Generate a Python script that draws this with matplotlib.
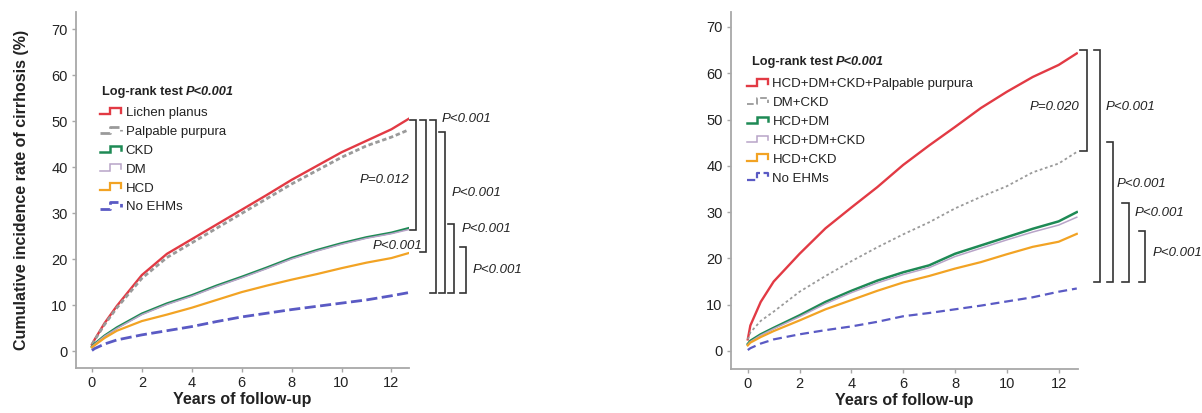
import numpy as np
import matplotlib
matplotlib.use("Agg")
import matplotlib.pyplot as plt
from matplotlib.lines import Line2D
from matplotlib.legend_handler import HandlerBase

plt.rcParams['font.family'] = ['Liberation Sans', 'DejaVu Sans']

# ---------------- data ----------------
years = [0, 0.1, 0.5, 1, 2, 3, 4, 5, 6, 7, 8, 9, 10, 11, 12, 12.7]

left_labels = ["Lichen planus", "Palpable purpura", "CKD", "DM", "HCD", "No EHMs"]
lichen_planus = [1.5, 2.5, 6.1, 9.9, 16.6, 21.2, 24.4, 27.6, 30.8, 34.0, 37.3, 40.3, 43.3, 45.8, 48.3, 50.6]
palpable_purpura = [1.5, 2.4, 5.8, 9.5, 15.9, 20.4, 23.6, 26.8, 30.0, 33.2, 36.4, 39.3, 42.2, 44.7, 46.6, 48.2]
ckd = [1.0, 1.6, 3.4, 5.2, 8.2, 10.4, 12.2, 14.3, 16.2, 18.2, 20.3, 22.0, 23.5, 24.8, 25.8, 26.8]
dm = [1.0, 1.5, 3.3, 5.0, 8.0, 10.2, 12.0, 14.1, 16.0, 18.0, 20.1, 21.8, 23.3, 24.6, 25.6, 26.5]
hcd = [0.9, 1.3, 2.9, 4.5, 6.6, 8.0, 9.5, 11.2, 12.9, 14.3, 15.6, 16.8, 18.1, 19.3, 20.3, 21.4]
no_ehms_left = [0.2, 0.6, 1.6, 2.5, 3.6, 4.5, 5.4, 6.5, 7.5, 8.3, 9.1, 9.8, 10.5, 11.2, 12.1, 12.8]

right_labels = ["HCD+DM+CKD+Palpable purpura", "DM+CKD", "HCD+DM", "HCD+DM+CKD", "HCD+CKD", "No EHMs"]
hcd_dm_ckd_pp = [2.5, 5.5, 10.6, 15.0, 21.0, 26.5, 31.0, 35.4, 40.2, 44.4, 48.4, 52.5, 56.0, 59.2, 61.8, 64.3]
dm_ckd = [2.5, 4.0, 6.5, 8.5, 12.8, 16.2, 19.4, 22.4, 25.2, 27.8, 30.8, 33.3, 35.6, 38.6, 40.5, 43.0]
hcd_dm = [1.5, 2.2, 3.6, 5.0, 7.7, 10.6, 13.0, 15.2, 17.0, 18.5, 21.0, 22.8, 24.6, 26.4, 28.0, 30.0]
hcd_dm_ckd = [1.4, 2.0, 3.4, 4.8, 7.4, 10.2, 12.6, 14.7, 16.5, 18.0, 20.4, 22.2, 24.0, 25.7, 27.2, 28.9]
hcd_ckd = [1.2, 1.8, 3.0, 4.3, 6.6, 9.0, 11.0, 13.0, 14.8, 16.2, 17.8, 19.2, 20.9, 22.5, 23.6, 25.3]
no_ehms_right = [0.2, 0.6, 1.6, 2.5, 3.6, 4.5, 5.3, 6.3, 7.5, 8.2, 9.0, 9.8, 10.7, 11.6, 12.8, 13.5]

y_ticks = [0, 10, 20, 30, 40, 50, 60, 70]
x_ticks = [0, 2, 4, 6, 8, 10, 12]

# brackets: (x, y_top, y_bottom, label, label_x, label_y, ha)
left_brackets = [
    (13.0, 50.3, 26.4, "P=0.012", 12.72, 37.2, "right"),
    (13.4, 50.3, 21.6, "P<0.001", 13.25, 22.9, "right"),
    (13.77, 50.3, 12.6, "P<0.001", 14.0, 50.6, "left"),
    (14.16, 47.8, 12.6, "P<0.001", 14.4, 34.4, "left"),
    (14.52, 27.8, 12.6, "P<0.001", 14.8, 26.7, "left"),
    (15.0, 22.6, 12.6, "P<0.001", 15.25, 17.7, "left"),
]
right_brackets = [
    (13.09, 65.0, 43.2, "P=0.020", 12.78, 52.7, "right"),
    (13.6, 65.0, 14.8, "P<0.001", 13.8, 52.7, "left"),
    (14.1, 45.2, 14.8, "P<0.001", 14.25, 36.1, "left"),
    (14.7, 31.9, 14.8, "P<0.001", 14.95, 29.9, "left"),
    (15.34, 26.0, 14.8, "P<0.001", 15.62, 21.1, "left"),
]

# ---------------- styles ----------------
RED = "#E23A44"
GRAY = "#9A9A9A"
GREEN = "#1E8A55"
PURPLE = "#B8A4C8"
ORANGE = "#F2A324"
BLUE = "#5A5AC4"
SPINE = "#A8A8A8"
TXT = "#222222"


class StepHandler(HandlerBase):
    def create_artists(self, legend, orig_handle, xdescent, ydescent, width, height, fontsize, trans):
        xs = np.array([0.0, 0.45, 0.45, 0.95, 0.95]) * width - xdescent
        ys = np.array([0.2, 0.2, 0.9, 0.9, 0.4]) * height - ydescent
        ln = Line2D(xs, ys, color=orig_handle.get_color(), lw=orig_handle.get_linewidth(),
                    linestyle=orig_handle.get_linestyle(), solid_joinstyle='miter')
        ln.set_transform(trans)
        return [ln]


fig = plt.figure(figsize=(12.02, 4.13), dpi=100)
axL = fig.add_axes([0.0632, 0.109, 0.277, 0.862])
axR = fig.add_axes([0.6082, 0.1065, 0.2887, 0.864])


def style_axes(ax, ylim, xlim):
    ax.set_xlim(*xlim)
    ax.set_ylim(*ylim)
    for s in ["top", "right"]:
        ax.spines[s].set_visible(False)
    for s in ["left", "bottom"]:
        ax.spines[s].set_color(SPINE)
        ax.spines[s].set_linewidth(1.3)
    ax.set_xticks(x_ticks)
    ax.set_yticks(y_ticks)
    ax.tick_params(axis="both", colors=SPINE, length=3, width=1, labelsize=10.5,
                   labelcolor=TXT, pad=3)
    ax.set_xlabel("Years of follow-up", fontsize=11.5, fontweight="bold", color=TXT, labelpad=1)


def draw_brackets(ax, brackets, tick):
    for (x, yt, yb, lab, lx, ly, ha) in brackets:
        ax.plot([x - tick, x, x, x - tick], [yt, yt, yb, yb], color="#333333", lw=1.2,
                clip_on=False, solid_joinstyle="miter")
        ax.text(lx, ly, lab, ha=ha, va="center", fontsize=9.5, style="italic",
                color=TXT, clip_on=False)


def draw_title(ax, x, y):
    t1 = ax.text(x, y, "Log-rank test ", transform=ax.transAxes, fontsize=9.2,
                 fontweight="bold", color=TXT, ha="left", va="center")
    ax.annotate("P<0.001", xy=(1, 0), xycoords=t1, xytext=(0, 0), textcoords="offset points",
                fontsize=9.2, fontweight="bold", style="italic", color=TXT, ha="left", va="bottom")


# ---------------- left panel ----------------
style_axes(axL, (-3.6, 73.8), (-0.64, 12.7))
hL = []
hL.append(axL.plot(years, lichen_planus, color=RED, lw=1.7)[0])
hL.append(axL.plot(years, palpable_purpura, color=GRAY, lw=2.0, ls=(0, (1.6, 1.0)))[0])
hL.append(axL.plot(years, ckd, color=GREEN, lw=1.8)[0])
hL.append(axL.plot(years, dm, color=PURPLE, lw=1.1)[0])
hL.append(axL.plot(years, hcd, color=ORANGE, lw=1.6)[0])
hL.append(axL.plot(years, no_ehms_left, color=BLUE, lw=2.0, ls=(0, (4, 1.6)))[0])
axL.set_ylabel("Cumulative incidence rate of cirrhosis (%)", fontsize=11.5,
               fontweight="bold", color=TXT, labelpad=16)
legL = axL.legend(hL, left_labels, loc="upper left", bbox_to_anchor=(0.072, 0.733),
                  frameon=False, fontsize=9.5, handlelength=1.7, handletextpad=0.25,
                  labelspacing=0.5, borderpad=0, borderaxespad=0,
                  handler_map={Line2D: StepHandler()})
for t in legL.get_texts():
    t.set_color(TXT)
draw_title(axL, 0.077, 0.776)
draw_brackets(axL, left_brackets, 0.24)

# ---------------- right panel ----------------
style_axes(axR, (-3.9, 73.2), (-0.645, 12.75))
hR = []
hR.append(axR.plot(years, hcd_dm_ckd_pp, color=RED, lw=1.7)[0])
hR.append(axR.plot(years, dm_ckd, color=GRAY, lw=1.3, ls=(0, (1.5, 1.5)))[0])
hR.append(axR.plot(years, hcd_dm, color=GREEN, lw=1.8)[0])
hR.append(axR.plot(years, hcd_dm_ckd, color=PURPLE, lw=1.1)[0])
hR.append(axR.plot(years, hcd_ckd, color=ORANGE, lw=1.6)[0])
hR.append(axR.plot(years, no_ehms_right, color=BLUE, lw=1.6, ls=(0, (4, 2.2)))[0])
legR = axR.legend(hR, right_labels, loc="upper left", bbox_to_anchor=(0.045, 0.815),
                  frameon=False, fontsize=9.5, handlelength=1.7, handletextpad=0.25,
                  labelspacing=0.5, borderpad=0, borderaxespad=0,
                  handler_map={Line2D: StepHandler()})
for t in legR.get_texts():
    t.set_color(TXT)
draw_title(axR, 0.06, 0.86)
draw_brackets(axR, right_brackets, 0.25)

fig.savefig("out.png", dpi=100)
